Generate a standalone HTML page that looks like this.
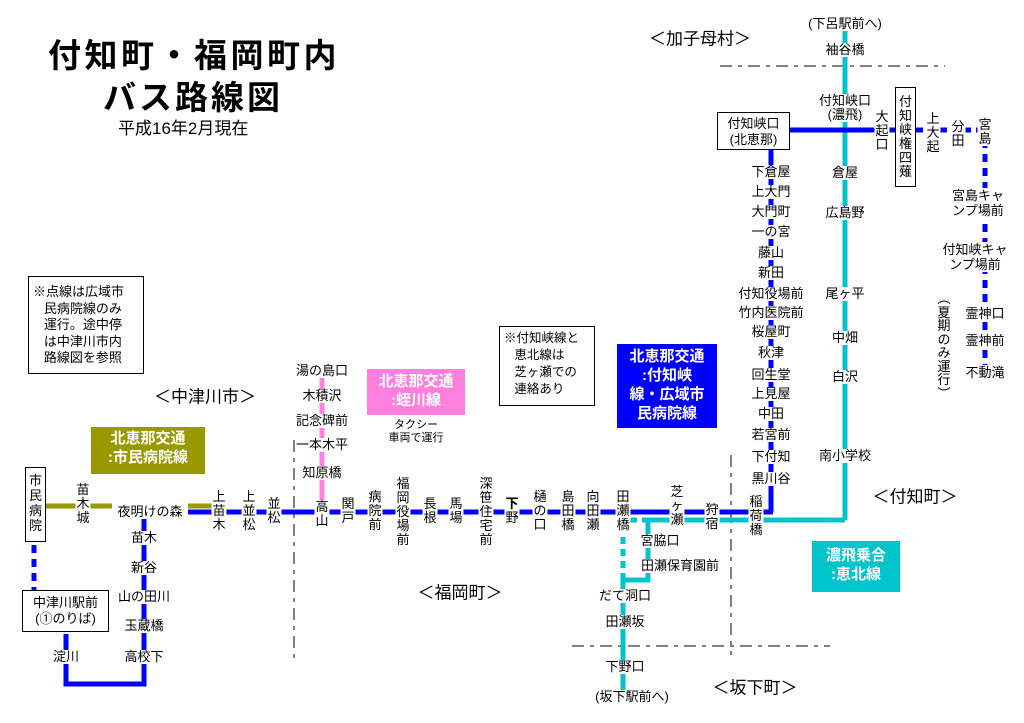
<!DOCTYPE html>
<html><head><meta charset="utf-8">
<style>
body{margin:0;background:#fff;}
#c{position:relative;width:1024px;height:723px;overflow:hidden;background:#fff;font-family:"Liberation Sans","Noto Sans CJK JP",sans-serif;color:#000;}
svg{position:absolute;left:0;top:0;}
.l{position:absolute;font-size:13px;line-height:14px;white-space:nowrap;transform:translateX(-50%);text-align:center;background:#fff;padding:0 1px;}
.h{transform:translate(-50%,-50%);}
.bx{position:absolute;border:1px solid #000;background:#fff;font-size:13px;line-height:15px;text-align:center;}
.cb{position:absolute;color:#fff;font-weight:bold;font-size:15px;line-height:19px;text-align:center;}
.rg{position:absolute;font-size:17px;white-space:nowrap;transform:translate(-50%,-50%);}
</style></head><body><div id="c">
<svg width="1024" height="723">
<g stroke="#000" stroke-width="1" stroke-dasharray="12,6,4,6" fill="none">
<line x1="294" y1="440" x2="294" y2="660"/>
<line x1="731" y1="455" x2="731" y2="655"/>
<line x1="572" y1="646" x2="830" y2="646"/>
<line x1="720" y1="66" x2="945" y2="66"/>
</g>
<g stroke="#999900" stroke-width="5">
<line x1="46" y1="506" x2="112" y2="506"/>
<line x1="188" y1="506" x2="212" y2="506"/>
</g>
<line x1="322" y1="375" x2="322" y2="500" stroke="#ff80df" stroke-width="5"/>
<g stroke="#00c4cc" stroke-width="5" fill="none">
<line x1="845" y1="30" x2="845" y2="520"/>
<line x1="648" y1="520" x2="845" y2="520"/>
<polyline points="648,520 648,580 623,580 623,690"/>
<line x1="630" y1="520" x2="648" y2="520" stroke-dasharray="7,5"/>
<line x1="623" y1="525" x2="623" y2="580" stroke-dasharray="7,5"/>
</g>
<g stroke="#0000ff" stroke-width="5" fill="none">
<line x1="188" y1="512" x2="773" y2="512"/>
<line x1="771" y1="512" x2="771" y2="135"/>
<line x1="790" y1="130" x2="895" y2="130"/>
<line x1="916" y1="130" x2="985" y2="130" stroke-dasharray="7,5"/>
<line x1="985" y1="140" x2="985" y2="365" stroke-dasharray="8,6"/>
<polyline points="144,515 144,684 66,684 66,634"/>
<line x1="34" y1="545" x2="34" y2="590" stroke-dasharray="8,6"/>
</g>
</svg>

<div style="position:absolute;left:48px;top:36px;font-size:33px;font-weight:bold;line-height:40px;letter-spacing:3.5px;white-space:nowrap;">付知町・福岡町内</div>
<div style="position:absolute;left:103px;top:78px;font-size:33px;font-weight:bold;line-height:40px;letter-spacing:3px;white-space:nowrap;">バス路線図</div>
<div style="position:absolute;left:118px;top:119px;font-size:17px;line-height:20px;white-space:nowrap;">平成16年2月現在</div>

<div class="bx" style="left:28px;top:276px;width:114px;height:96px;text-align:left;font-size:13px;line-height:16.5px;padding:0;">
<div style="padding:7px 0 0 4px;">※点線は広域市<br>&nbsp;&nbsp;&nbsp;民病院線のみ<br>&nbsp;&nbsp;&nbsp;運行。途中停<br>&nbsp;&nbsp;&nbsp;は中津川市内<br>&nbsp;&nbsp;&nbsp;路線図を参照</div></div>
<div class="bx" style="left:499px;top:326px;width:94px;height:78px;text-align:left;font-size:12.5px;line-height:17px;">
<div style="padding:3px 0 0 4px;">※付知峡線と<br>&nbsp;&nbsp;&nbsp;恵北線は<br>&nbsp;&nbsp;&nbsp;芝ヶ瀬での<br>&nbsp;&nbsp;&nbsp;連絡あり</div></div>

<div class="cb" style="left:91px;top:427px;width:114px;height:47px;background:#999900;padding-top:2px;box-sizing:border-box;">北恵那交通<br>:市民病院線</div>
<div class="cb" style="left:367px;top:369px;width:98px;height:46px;background:#ff80df;padding-top:3px;box-sizing:border-box;">北恵那交通<br>:蛭川線</div>
<div class="l" style="left:416px;top:419px;font-size:11px;line-height:13px;">タクシー<br>車両で運行</div>
<div class="cb" style="left:617px;top:344px;width:100px;height:84px;background:#0000ff;padding-top:3px;box-sizing:border-box;">北恵那交通<br>:付知峡<br>線・広域市<br>民病院線</div>
<div class="cb" style="left:812px;top:541px;width:88px;height:51px;background:#00c4cc;padding-top:5px;box-sizing:border-box;">濃飛乗合<br>:恵北線</div>

<div class="rg" style="left:205px;top:395px;">＜中津川市＞</div>
<div class="rg" style="left:460px;top:591px;">＜福岡町＞</div>
<div class="rg" style="left:915px;top:495px;">＜付知町＞</div>
<div class="rg" style="left:755px;top:686px;">＜坂下町＞</div>
<div class="rg" style="left:700px;top:37px;">＜加子母村＞</div>

<div class="bx" style="left:25px;top:467px;width:21px;height:75px;line-height:15px;padding-top:5px;box-sizing:border-box;">市<br>民<br>病<br>院</div>
<div class="bx" style="left:22px;top:590px;width:87px;height:42px;line-height:16px;padding-top:4px;box-sizing:border-box;">中津川駅前<br>(①のりば)</div>
<div class="bx" style="left:717px;top:112px;width:73px;height:38px;line-height:16px;padding-top:3px;box-sizing:border-box;">付知峡口<br>(北恵那)</div>
<div class="bx" style="left:895px;top:87px;width:21px;height:100px;line-height:14px;padding-top:7px;box-sizing:border-box;">付<br>知<br>峡<br>権<br>四<br>薙</div>

<div class="l" style="left:83px;top:483px;">苗<br>木<br>城</div>
<div class="l h" style="left:150px;top:512px;">夜明けの森</div>
<div class="l" style="left:219px;top:490px;">上<br>苗<br>木</div>
<div class="l" style="left:249px;top:490px;">上<br>並<br>松</div>
<div class="l" style="left:274px;top:497px;">並<br>松</div>
<div class="l" style="left:322px;top:500px;">高<br>山</div>
<div class="l" style="left:348px;top:497px;">関<br>戸</div>
<div class="l" style="left:375px;top:490px;">病<br>院<br>前</div>
<div class="l" style="left:403px;top:477px;">福<br>岡<br>役<br>場<br>前</div>
<div class="l" style="left:430px;top:497px;">長<br>根</div>
<div class="l" style="left:456px;top:497px;">馬<br>場</div>
<div class="l" style="left:486px;top:477px;">深<br>笹<br>住<br>宅<br>前</div>
<div class="l" style="left:512px;top:497px;"><b>下</b><br>野</div>
<div class="l" style="left:540px;top:490px;">樋<br>の<br>口</div>
<div class="l" style="left:568px;top:490px;">島<br>田<br>橋</div>
<div class="l" style="left:593px;top:490px;">向<br>田<br>瀬</div>
<div class="l" style="left:623px;top:490px;">田<br>瀬<br>橋</div>
<div class="l" style="left:677px;top:485px;">芝<br>ヶ<br>瀬</div>
<div class="l" style="left:712px;top:503px;">狩<br>宿</div>
<div class="l" style="left:756px;top:495px;">稲<br>荷<br>橋</div>

<div class="l h" style="left:144px;top:538px;">苗木</div>
<div class="l h" style="left:144px;top:568px;">新谷</div>
<div class="l h" style="left:144px;top:597px;">山の田川</div>
<div class="l h" style="left:144px;top:626px;">玉蔵橋</div>
<div class="l h" style="left:144px;top:657px;">高校下</div>
<div class="l h" style="left:66px;top:657px;">淀川</div>

<div class="l h" style="left:322px;top:371px;">湯の島口</div>
<div class="l h" style="left:322px;top:396px;">木積沢</div>
<div class="l h" style="left:322px;top:421px;">記念碑前</div>
<div class="l h" style="left:322px;top:445px;">一本木平</div>
<div class="l h" style="left:322px;top:473px;">知原橋</div>

<div class="l h" style="left:771px;top:172px;">下倉屋</div>
<div class="l h" style="left:771px;top:192px;">上大門</div>
<div class="l h" style="left:771px;top:212px;">大門町</div>
<div class="l h" style="left:771px;top:232px;">一の宮</div>
<div class="l h" style="left:771px;top:253px;">藤山</div>
<div class="l h" style="left:771px;top:273px;">新田</div>
<div class="l h" style="left:771px;top:294px;">付知役場前</div>
<div class="l h" style="left:771px;top:313px;">竹内医院前</div>
<div class="l h" style="left:771px;top:332px;">桜屋町</div>
<div class="l h" style="left:771px;top:353px;">秋津</div>
<div class="l h" style="left:771px;top:375px;">回生堂</div>
<div class="l h" style="left:771px;top:394px;">上見屋</div>
<div class="l h" style="left:771px;top:414px;">中田</div>
<div class="l h" style="left:771px;top:435px;">若宮前</div>
<div class="l h" style="left:771px;top:457px;">下付知</div>
<div class="l h" style="left:771px;top:479px;">黒川谷</div>

<div class="l h" style="left:845px;top:24px;">(下呂駅前へ)</div>
<div class="l h" style="left:845px;top:50px;">袖谷橋</div>
<div class="l" style="left:845px;top:94px;">付知峡口<br>(濃飛)</div>
<div class="l h" style="left:845px;top:173px;">倉屋</div>
<div class="l h" style="left:845px;top:213px;">広島野</div>
<div class="l h" style="left:845px;top:294px;">尾ヶ平</div>
<div class="l h" style="left:845px;top:338px;">中畑</div>
<div class="l h" style="left:845px;top:377px;">白沢</div>
<div class="l h" style="left:845px;top:456px;">南小学校</div>

<div class="l" style="left:882px;top:110px;">大<br>起<br>口</div>
<div class="l" style="left:933px;top:112px;">上<br>大<br>起</div>
<div class="l" style="left:958px;top:120px;">分<br>田</div>
<div class="l" style="left:985px;top:118px;">宮<br>島</div>
<div class="l" style="left:978px;top:188px;line-height:15px;">宮島キャ<br>ンプ場前</div>
<div class="l" style="left:975px;top:242px;line-height:15px;">付知峡キャ<br>ンプ場前</div>
<div class="l" style="left:944px;top:292px;line-height:13.5px;">︵<br>夏<br>期<br>の<br>み<br>運<br>行<br>︶</div>
<div class="l h" style="left:985px;top:314px;">霊神口</div>
<div class="l h" style="left:985px;top:341px;">霊神前</div>
<div class="l h" style="left:985px;top:373px;">不動滝</div>

<div class="l h" style="left:660px;top:541px;">宮脇口</div>
<div class="l h" style="left:680px;top:566px;">田瀬保育園前</div>
<div class="l h" style="left:625px;top:596px;">だて洞口</div>
<div class="l h" style="left:625px;top:622px;">田瀬坂</div>
<div class="l h" style="left:625px;top:667px;">下野口</div>
<div class="l h" style="left:632px;top:697px;">(坂下駅前へ)</div>
</div></body></html>
